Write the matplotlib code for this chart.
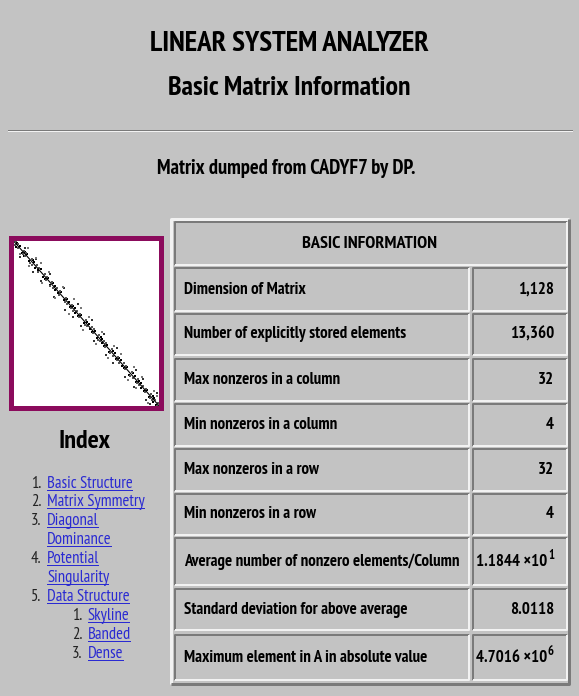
import matplotlib
matplotlib.use('Agg')
import math
import matplotlib.pyplot as plt
from matplotlib.patches import Rectangle

plt.rcParams['font.family'] = ['PT Sans Narrow', 'DejaVu Sans']
plt.rcParams['font.stretch'] = 'condensed'

page_title = 'LINEAR SYSTEM ANALYZER'
page_subtitle = 'Basic Matrix Information'
matrix_note = 'Matrix dumped from CADYF7 by DP.'
table_header = 'BASIC INFORMATION'
index_title = 'Index'

row_labels = ['Dimension of Matrix',
              'Number of explicitly stored elements',
              'Max nonzeros in a column',
              'Min nonzeros in a column',
              'Max nonzeros in a row',
              'Min nonzeros in a row',
              'Average number of nonzero elements/Column',
              'Standard deviation for above average',
              'Maximum element in A in absolute value']
row_values = [1128, 13360, 32, 4, 32, 4, 11.844, 8.0118, 4.7016e6]
row_formats = ['int', 'int', 'int', 'int', 'int', 'int', 'sci', 'fix', 'sci']

index_numbers = ['1.', '2.', '3.', '4.', '5.', '1.', '2.', '3.']
index_links = [['Basic Structure'], ['Matrix Symmetry'], ['Diagonal', 'Dominance'],
               ['Potential', 'Singularity'], ['Data Structure'],
               ['Skyline'], ['Banded'], ['Dense']]
index_levels = [0, 0, 0, 0, 0, 1, 1, 1]

# nonzeros near the diagonal (row, col)
nz_rows = [10, 14, 22, 30, 35, 8, 40, 55, 60, 95, 105, 112, 120, 150, 158, 165,
           200, 210, 218, 260, 268, 275, 300, 312, 320, 350, 362, 370, 410, 418,
           425, 455, 462, 470, 500, 512, 520, 560, 568, 575, 610, 618, 625, 660,
           668, 672, 700, 712, 720, 750, 760, 768, 800, 808, 815, 850, 858, 866,
           900, 910, 918, 950, 958, 965, 1000, 1010, 1018, 1050, 1058, 1065,
           1090, 1100, 1110, 1120]
nz_cols = [25, 2, 40, 12, 48, 30, 22, 70, 45, 110, 88, 125, 105, 168, 140, 180,
           185, 228, 205, 245, 285, 262, 320, 296, 335, 338, 380, 355, 428, 400,
           440, 470, 445, 488, 485, 530, 505, 578, 550, 590, 595, 636, 610, 678,
           650, 690, 685, 728, 702, 768, 742, 785, 815, 790, 832, 835, 875, 850,
           918, 892, 935, 965, 940, 980, 985, 1028, 1002, 1068, 1040, 1080,
           1075, 1115, 1095, 1126]
# scattered entries a bit farther out
far_rows = [18, 48, 70, 130, 142, 190, 232, 240, 290, 338, 392, 440, 478, 530,
            545, 590, 640, 690, 735, 780, 830, 880, 925, 940, 990, 1035, 1080, 1105]
far_cols = [75, 0, 110, 72, 190, 138, 170, 300, 230, 400, 330, 505, 410, 470,
            612, 528, 705, 625, 800, 720, 770, 945, 862, 1000, 925, 1100, 1020, 1050]

W, H = 579, 696
BG = '#c3c3c3'
LIGHT = '#f2f2f2'
DARK = '#7a7a7a'
LINK = '#2a2ad2'
PX = 0.72  # points per pixel at dpi 100


def fmt_value(v, kind):
    if kind == 'int':
        return f'{v:,}', None
    if kind == 'fix':
        return f'{v:.4f}', None
    e = int(math.floor(math.log10(abs(v))))
    return f'{v / 10 ** e:.4f} \u00d710', str(e)


def bevel(ax, x0, y0, x1, y1, raised, lw):
    tl, br = (LIGHT, DARK) if raised else (DARK, LIGHT)
    ax.plot([x0, x0, x1], [y1, y0, y0], color=tl, lw=lw * PX, solid_capstyle='butt')
    ax.plot([x1, x1, x0], [y0, y1, y1], color=br, lw=lw * PX, solid_capstyle='butt')


def width(t):
    return t.get_window_extent().width


fig = plt.figure(figsize=(W / 100, H / 100), dpi=100, facecolor=BG)
ax = fig.add_axes([0, 0, 1, 1])
ax.set_xlim(0, W)
ax.set_ylim(H, 0)
ax.axis('off')

# groups of texts sized to the pixel width their reference text takes
groups = []

t_title = ax.text(289, 44, page_title, ha='center', va='center', fontsize=16, weight='bold')
t_sub = ax.text(289, 88, page_subtitle, ha='center', va='center', fontsize=16, weight='bold')
t_note = ax.text(286, 168, matrix_note, ha='center', va='center', fontsize=12, weight='bold')
groups += [([t_title], t_title, 280), ([t_sub], t_sub, 242), ([t_note], t_note, 258)]

ax.plot([8, 572], [129.5, 129.5], color=DARK, lw=1 * PX)
ax.plot([8, 572], [131, 131], color=LIGHT, lw=1 * PX)

# table
ax.add_patch(Rectangle((170, 218), 400, 467, facecolor=BG, edgecolor='none'))
bevel(ax, 171, 219, 569, 684, True, 3)
bevel(ax, 175, 222, 567, 265, False, 2)
t_head = ax.text(370, 244, table_header, ha='center', va='center', fontsize=11, weight='bold')
groups.append(([t_head], t_head, 135))

row_tops = [268, 314, 359, 404, 449, 494, 538, 589, 635]
row_bots = [311, 355, 401, 446, 491, 535, 585, 630, 680]
cell_texts, sup_pairs = [], []
for label, val, kind, top, bot in zip(row_labels, row_values, row_formats, row_tops, row_bots):
    bevel(ax, 175, top, 469, bot, False, 2)
    bevel(ax, 473, top, 567, bot, False, 2)
    yc = (top + bot) / 2
    cell_texts.append(ax.text(184, yc, label, ha='left', va='center', fontsize=11, weight='bold'))
    base, sup = fmt_value(val, kind)
    tb = ax.text(554, yc, base, ha='right', va='center', fontsize=11, weight='bold')
    cell_texts.append(tb)
    if sup is not None:
        ts = ax.text(554, yc - 6, sup, ha='right', va='center', fontsize=8, weight='bold')
        sup_pairs.append((tb, ts))
groups.append((cell_texts, cell_texts[12], 274))

# sparsity pattern thumbnail
n_dim = row_values[0]
mx = fig.add_axes([10.5 / W, 1 - 407.5 / H, 150 / W, 170 / H])
mx.set_xlim(0, n_dim)
mx.set_ylim(n_dim, 0)
mx.set_facecolor('white')
mx.set_xticks([])
mx.set_yticks([])
for s in mx.spines.values():
    s.set_color('#8b0b5c')
    s.set_linewidth(5 * PX)
mx.plot([0, n_dim], [0, n_dim], color='black', lw=0.8)
mx.scatter(nz_cols, nz_rows, s=3, marker='s', color='black', linewidths=0)
mx.scatter(nz_rows, nz_cols, s=3, marker='s', color='#555555', linewidths=0)
mx.scatter(far_cols, far_rows, s=1.5, marker='s', color='#333333', linewidths=0)
mx.scatter(far_rows, far_cols, s=1.5, marker='s', color='#777777', linewidths=0)

# index
t_idx = ax.text(84, 441, index_title, ha='center', va='center', fontsize=16, weight='bold')
groups.append(([t_idx], t_idx, 52))
link_texts, num_texts = [], []
y = 483
for num, lines, lev in zip(index_numbers, index_links, index_levels):
    nx = 41 if lev == 0 else 82
    lx = 47 if lev == 0 else 88
    num_texts.append(ax.text(nx, y + 4.5, num, ha='right', va='baseline', fontsize=10, color='#222222'))
    for line in lines:
        t = ax.text(lx, y + 4.5, line, ha='left', va='baseline', fontsize=10, color=LINK)
        link_texts.append((t, lx, y + 6.5))
        y += 18.9
groups.append(([t for t, _, _ in link_texts] + num_texts, link_texts[0][0], 86))

fig.canvas.draw()
for members, ref, target in groups:
    k = target / width(ref)
    for t in members:
        t.set_fontsize(t.get_fontsize() * k)
for tb, ts in sup_pairs:
    ts.set_fontsize(tb.get_fontsize() * 0.75)

fig.canvas.draw()
for tb, ts in sup_pairs:
    tb.set_x(554 - width(ts) - 1)
for t, lx, uy in link_texts:
    ax.plot([lx, lx + width(t) - 1], [uy, uy], color=LINK, lw=1 * PX)

fig.savefig('out.png', dpi=100, facecolor=BG)
